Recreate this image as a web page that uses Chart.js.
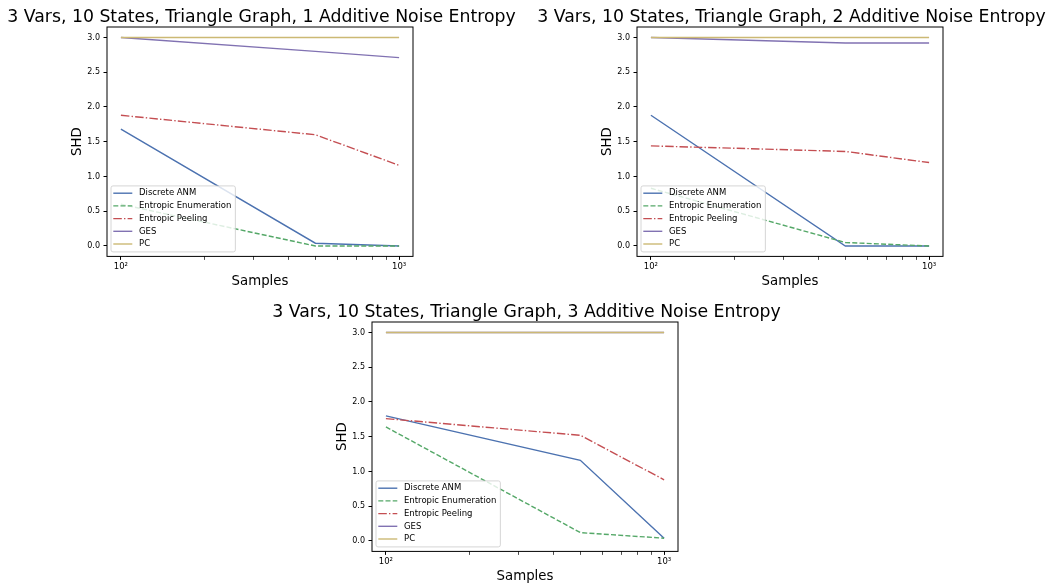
<!DOCTYPE html>
<html>
<head>
<meta charset="utf-8">
<script src="https://cdn.jsdelivr.net/npm/chart.js@4/dist/chart.umd.min.js"></script>
<style>
  html, body { margin: 0; padding: 0; background: #fff; overflow: hidden; }
  body { width: 1049px; height: 584px; position: relative; }
  canvas { position: absolute; }
  #c1 { left: 0.3px; top: 0.3px; }
  #c2 { left: 529.7px; top: 0.3px; }
  #c3 { left: 265.2px; top: 295.3px; }
</style>
</head>
<body>
<canvas id="c1" width="520" height="300"></canvas>
<canvas id="c2" width="520" height="300"></canvas>
<canvas id="c3" width="520" height="300"></canvas>
<script>
// data
const samples = [100, 500, 1000];
const methodNames = ["Discrete ANM", "Entropic Enumeration", "Entropic Peeling", "GES", "PC"];
const yTickValues = [0, 0.5, 1.0, 1.5, 2.0, 2.5, 3.0];
const xTickValues = [100, 200, 300, 400, 500, 600, 700, 800, 900, 1000];

const titles = [
  "3 Vars, 10 States, Triangle Graph, 1 Additive Noise Entropy",
  "3 Vars, 10 States, Triangle Graph, 2 Additive Noise Entropy",
  "3 Vars, 10 States, Triangle Graph, 3 Additive Noise Entropy",
];

const anm1 = [1.68, 0.04, 0.0];
const enum1 = [0.60, 0.0, 0.0];
const peel1 = [1.88, 1.60, 1.16];
const ges1 = [3.0, 2.80, 2.71];
const pc1 = [3.0, 3.0, 3.0];

const anm2 = [1.88, 0.0, 0.0];
const enum2 = [0.83, 0.05, 0.0];
const peel2 = [1.44, 1.36, 1.20];
const ges2 = [3.0, 2.92, 2.92];
const pc2 = [3.0, 3.0, 3.0];

const anm3 = [1.80, 1.16, 0.04];
const enum3 = [1.64, 0.12, 0.04];
const peel3 = [1.76, 1.52, 0.88];
const ges3 = [3.0, 3.0, 3.0];
const pc3 = [3.0, 3.0, 3.0];

const colors = ["#4C72B0", "#55A868", "#C44E52", "#8172B2", "#CCB974"];
const dashes = [[], [5, 2.2], [8.5, 2.2, 1.4, 2.2], [], []];

Chart.defaults.font.family = "'DejaVu Sans', sans-serif";
Chart.defaults.color = "#000";

// black box round the plot area, like the mpl spines
const frame = {
  id: "frame",
  afterDatasetsDraw(chart) {
    const { ctx, chartArea: a } = chart;
    ctx.save();
    ctx.strokeStyle = "#000";
    ctx.lineWidth = 1;
    ctx.strokeRect(a.left, a.top, a.right - a.left, a.bottom - a.top);
    ctx.restore();
  },
};

// title centred over the axes (the built-in one gets squeezed)
const axesTitle = {
  id: "axesTitle",
  afterDraw(chart, args, opts) {
    const { ctx, chartArea: a } = chart;
    ctx.save();
    ctx.font = "17.3px 'DejaVu Sans'";
    ctx.fillStyle = "#000";
    ctx.textAlign = "center";
    ctx.textBaseline = "alphabetic";
    ctx.fillText(opts.text, (a.left + a.right) / 2 + 1.5, a.top - 5);
    ctx.restore();
  },
};

// legend in the lower left corner of the axes
const legendInside = {
  id: "legendInside",
  afterDraw(chart) {
    const { ctx, chartArea: a } = chart;
    const sets = chart.data.datasets;
    ctx.save();
    ctx.font = "8.5px 'DejaVu Sans'";
    let maxW = 0;
    sets.forEach((ds) => {
      maxW = Math.max(maxW, ctx.measureText(ds.label).width);
    });
    const rowH = 12.7;
    const w = 28 + maxW + 4;
    const h = 66;
    const x0 = a.left + 4;
    const y0 = a.bottom - 4.5 - h;
    ctx.beginPath();
    ctx.roundRect(x0, y0, w, h, 2);
    ctx.fillStyle = "rgba(255,255,255,0.8)";
    ctx.fill();
    ctx.strokeStyle = "#cccccc";
    ctx.lineWidth = 0.8;
    ctx.stroke();
    sets.forEach((ds, i) => {
      const y = y0 + 7.3 + i * rowH;
      ctx.beginPath();
      ctx.setLineDash(ds.borderDash || []);
      ctx.strokeStyle = ds.borderColor;
      ctx.lineWidth = ds.borderWidth;
      ctx.moveTo(x0 + 2.3, y);
      ctx.lineTo(x0 + 21.3, y);
      ctx.stroke();
      ctx.setLineDash([]);
      ctx.fillStyle = "#000";
      ctx.textBaseline = "middle";
      ctx.fillText(ds.label, x0 + 28, y);
    });
    ctx.restore();
  },
};

function makeChart(id, title, series) {
  const datasets = series.map((vals, i) => ({
    label: methodNames[i],
    data: samples.map((s, j) => ({ x: s, y: vals[j] })),
    borderColor: colors[i],
    borderWidth: 1.4,
    borderDash: dashes[i],
    pointRadius: 0,
    fill: false,
    tension: 0,
    order: series.length - i, // later series on top, as in matplotlib
  }));

  return new Chart(document.getElementById(id), {
    type: "line",
    data: { datasets },
    options: {
      responsive: false,
      animation: false,
      layout: { padding: { left: 0, right: 107, top: 27, bottom: 0 } },
      plugins: {
        legend: { display: false },
        tooltip: { enabled: false },
        title: { display: false },
        axesTitle: { text: title },
      },
      scales: {
        x: {
          type: "logarithmic",
          min: Math.pow(10, 1.95),
          max: Math.pow(10, 3.05),
          afterBuildTicks: (scale) => {
            scale.ticks = xTickValues.map((v) => ({ value: v }));
          },
          afterFit: (scale) => {
            scale.height = 43.6;
          },
          grid: {
            drawOnChartArea: false,
            drawTicks: true,
            tickLength: 3.5,
            tickColor: "#000",
            tickWidth: (c) => (c.tick && (c.tick.value === 100 || c.tick.value === 1000) ? 1 : 0.7),
          },
          border: { display: false },
          ticks: {
            autoSkip: false,
            maxRotation: 0,
            padding: 2.2,
            color: "#000",
            font: { size: 8.5 },
            callback: (v) => (v === 100 ? "10²" : v === 1000 ? "10³" : ""),
          },
          title: {
            display: true,
            text: "Samples",
            color: "#000",
            font: { size: 13.3 },
            padding: { top: 0, bottom: 10.8 },
          },
        },
        y: {
          min: -0.15,
          max: 3.15,
          afterBuildTicks: (scale) => {
            scale.ticks = yTickValues.map((v) => ({ value: v }));
          },
          afterFit: (scale) => {
            scale.width = 107;
          },
          grid: {
            drawOnChartArea: false,
            drawTicks: true,
            tickLength: 3.5,
            tickColor: "#000",
            tickWidth: 1,
          },
          border: { display: false },
          ticks: {
            padding: 3.5,
            color: "#000",
            font: { size: 8 },
            callback: (v) => Number(v).toFixed(1),
          },
          title: {
            display: true,
            text: "SHD",
            color: "#000",
            font: { size: 13.3 },
            padding: { top: 70, bottom: 0 },
          },
        },
      },
    },
    plugins: [frame, axesTitle, legendInside],
  });
}

makeChart("c1", titles[0], [anm1, enum1, peel1, ges1, pc1]);
makeChart("c2", titles[1], [anm2, enum2, peel2, ges2, pc2]);
makeChart("c3", titles[2], [anm3, enum3, peel3, ges3, pc3]);
</script>
</body>
</html>
